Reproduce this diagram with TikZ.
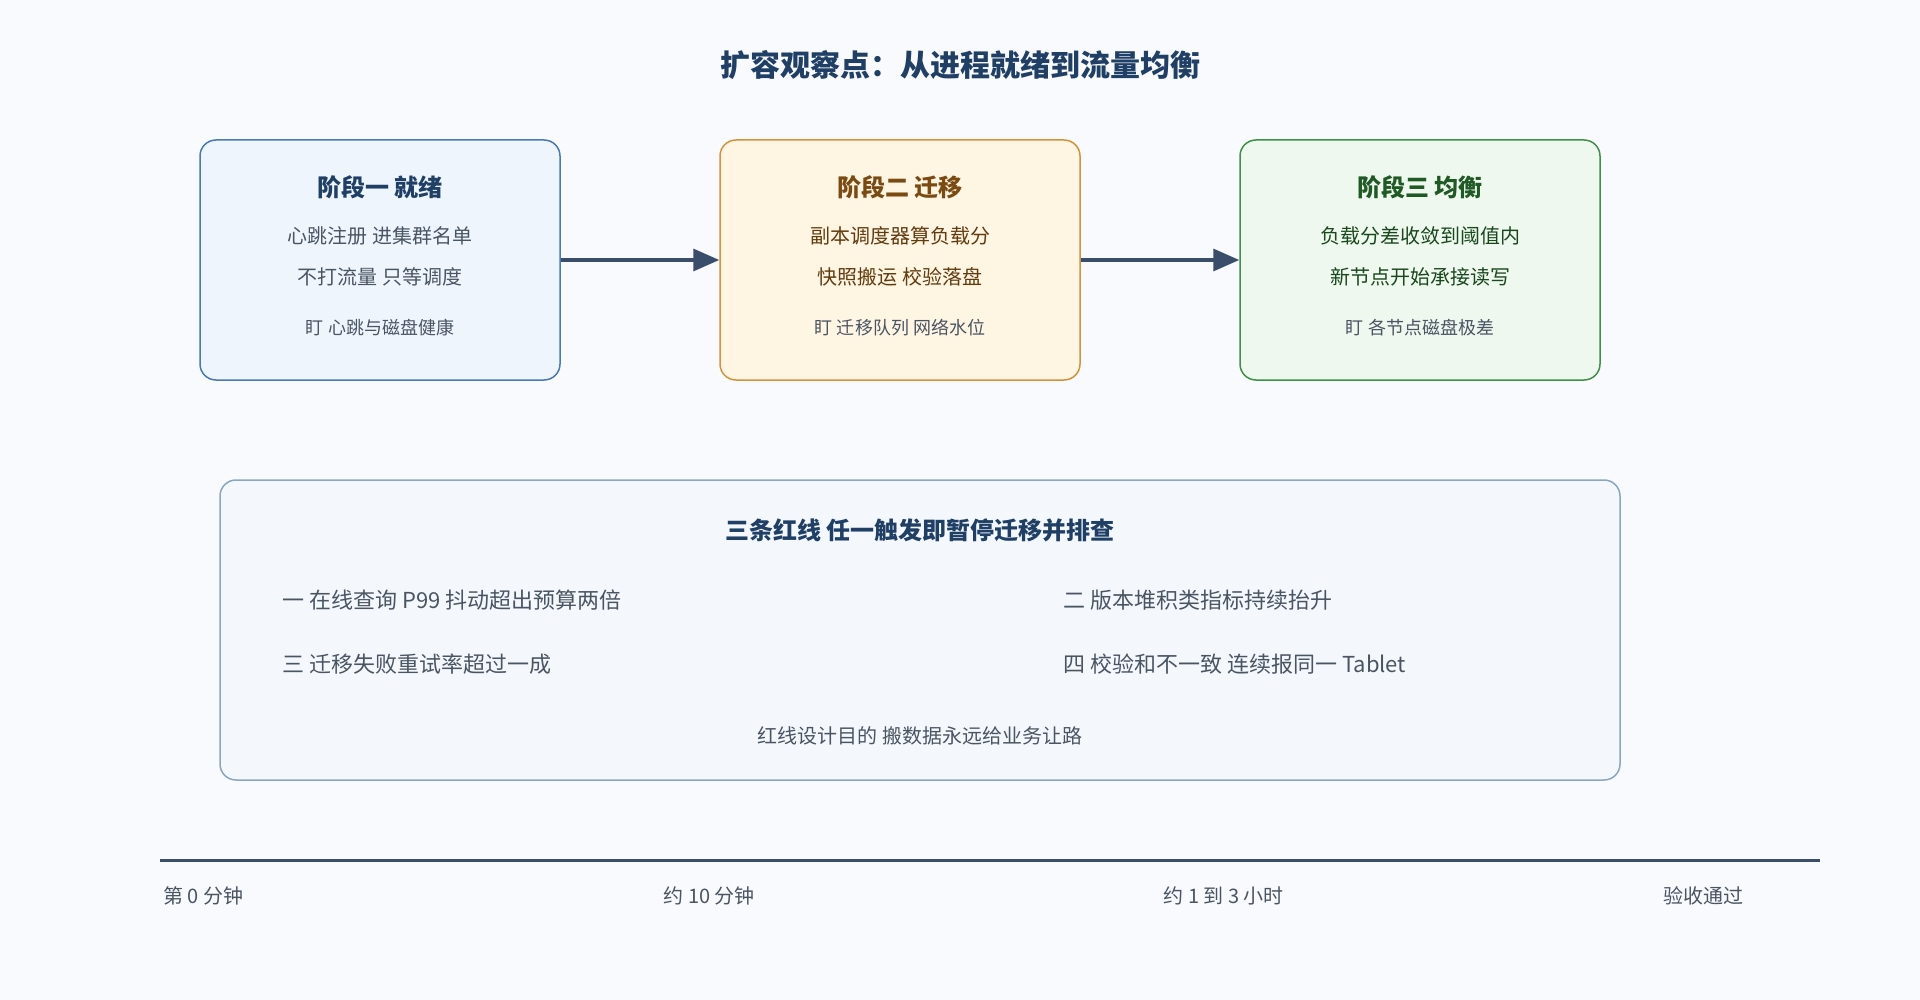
\documentclass[tikz,border=0pt]{standalone}
\usepackage{fontspec}
\setmainfont{Noto Sans CJK SC}
\usetikzlibrary{arrows.meta}
\definecolor{bgc}{HTML}{F8FAFD}
\definecolor{ink}{HTML}{3A4E6B}
\definecolor{txt}{HTML}{4A5564}
\definecolor{blueF}{HTML}{EEF5FD}
\definecolor{blueD}{HTML}{4A7AB5}
\definecolor{blueT}{HTML}{1F3F66}
\definecolor{orF}{HTML}{FFF5E3}
\definecolor{orD}{HTML}{D4943A}
\definecolor{orT}{HTML}{7A4A10}
\definecolor{grF}{HTML}{EEF8EE}
\definecolor{grD}{HTML}{3F9147}
\definecolor{grT}{HTML}{1F5A24}
\definecolor{redF}{HTML}{F4F8FC}
\definecolor{redD}{HTML}{8AA6C4}
\tikzset{
  stage/.style={draw, line width=1.5pt, rounded corners=16pt, minimum width=360pt, minimum height=240pt},
  head/.style={font=\fontsize{24}{28}\selectfont\bfseries},
  body/.style={font=\fontsize{20}{24}\selectfont, text=txt},
  note/.style={font=\fontsize{18}{22}\selectfont, text=txt},
  flow/.style={ink, line width=3.5pt, -{Triangle[length=26pt,width=22pt]}}
}
\begin{document}
\begin{tikzpicture}[x=1pt,y=-1pt]
\fill [bgc] (0,0) rectangle (1920,1000);
\node [head, font=\fontsize{30}{34}\selectfont\bfseries, text=blueT] (title) at (960,65) {扩容观察点：从进程就绪到流量均衡};

\node [stage, fill=blueF, draw=blueD] (s1) at (380,260) {};
\node [stage, fill=orF, draw=orD] (s2) at (900,260) {};
\node [stage, fill=grF, draw=grD] (s3) at (1420,260) {};

\node [head, text=blueT] (h1) at (380,187) {阶段一 就绪};
\node [body] (a1) at (380,236) {心跳注册 进集群名单};
\node [body] (b1) at (380,277) {不打流量 只等调度};
\node [note] (c1) at (380,328) {盯 心跳与磁盘健康};

\node [head, text=orT] (h2) at (900,187) {阶段二 迁移};
\node [body, text=orT!80!black] (a2) at (900,236) {副本调度器算负载分};
\node [body, text=orT!80!black] (b2) at (900,277) {快照搬运 校验落盘};
\node [note] (c2) at (900,328) {盯 迁移队列 网络水位};

\node [head, text=grT] (h3) at (1420,187) {阶段三 均衡};
\node [body, text=grT!80!black] (a3) at (1420,236) {负载分差收敛到阈值内};
\node [body, text=grT!80!black] (b3) at (1420,277) {新节点开始承接读写};
\node [note] (c3) at (1420,328) {盯 各节点磁盘极差};

\draw [flow] (s1) -- (s2);
\draw [flow] (s2) -- (s3);

\node [stage, fill=redF, draw=redD, minimum width=1400pt, minimum height=300pt] (red) at (920,630) {};
\node [head, text=blueT] (rh) at (920,530) {三条红线 任一触发即暂停迁移并排查};
\node [body, font=\fontsize{22}{26}\selectfont, anchor=west] (r1) at (279,600) {一 在线查询 P99 抖动超出预算两倍};
\node [body, font=\fontsize{22}{26}\selectfont, anchor=west] (r2) at (1060,600) {二 版本堆积类指标持续抬升};
\node [body, font=\fontsize{22}{26}\selectfont, anchor=west] (r3) at (279,664) {三 迁移失败重试率超过一成};
\node [body, font=\fontsize{22}{26}\selectfont, anchor=west] (r4) at (1060,664) {四 校验和不一致 连续报同一 Tablet};
\node [body] (rf) at (920,736) {红线设计目的 搬数据永远给业务让路};

\coordinate (t0) at (160,860);
\coordinate (t1) at (1820,860);
\draw [ink, line width=3pt] (t0) -- (t1);
\node [body, anchor=west] (l0) at (160,896) {第 0 分钟};
\node [body, anchor=west] (l1) at (660,896) {约 10 分钟};
\node [body, anchor=west] (l2) at (1160,896) {约 1 到 3 小时};
\node [body, anchor=west] (l3) at (1660,896) {验收通过};
\end{tikzpicture}
\end{document}
